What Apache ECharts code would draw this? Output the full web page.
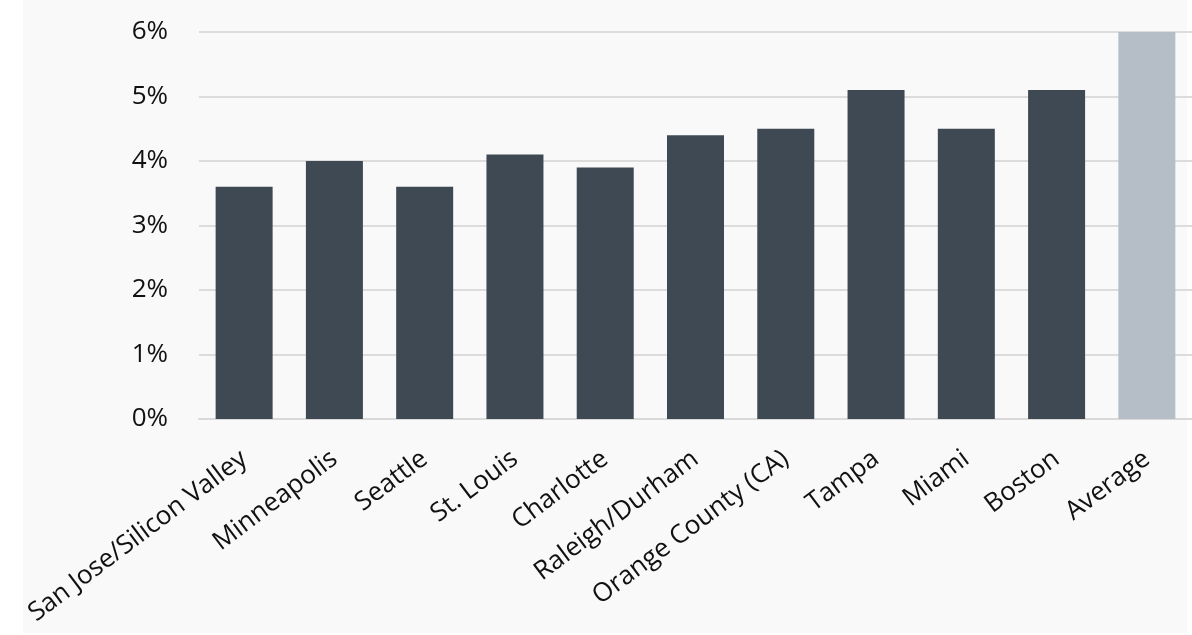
<!DOCTYPE html>
<html>
<head>
<meta charset="utf-8">
<script src="https://cdn.jsdelivr.net/npm/echarts@6/dist/echarts.min.js"></script>
<style>
  html, body { margin: 0; padding: 0; background: #ffffff; }
  #panel { position: absolute; left: 23px; top: 0; width: 1164px; height: 633px; background: #f9f9f9; }
  #chart { position: absolute; left: 0; top: 0; width: 1192px; height: 635px; }
</style>
</head>
<body>
<div id="panel"></div>
<div id="chart"></div>
<script>
// Markets and their rates (%), with the overall average last
const markets = ['San Jose/Silicon Valley', 'Minneapolis', 'Seattle', 'St. Louis', 'Charlotte',
  'Raleigh/Durham', 'Orange County (CA)', 'Tampa', 'Miami', 'Boston', 'Average'];
const rates = [3.6, 4.0, 3.6, 4.1, 3.9, 4.4, 4.5, 5.1, 4.5, 5.1, 6.0];
const yTicks = [0, 1, 2, 3, 4, 5, 6];

const DARK = '#3e4953';
const LIGHT = '#b5bec7';

const chart = echarts.init(document.getElementById('chart'), null, { renderer: 'canvas' });
chart.setOption({
  backgroundColor: 'transparent',
  animation: false,
  grid: { left: 199, top: 32, width: 1001, height: 387, containLabel: false },
  xAxis: {
    type: 'category',
    data: markets,
    axisLine: { show: true, lineStyle: { color: '#d9d9d9', width: 2 } },
    axisTick: { show: false },
    axisLabel: {
      interval: 0,
      rotate: 37,
      margin: 37,
      fontFamily: 'Open Sans',
      fontSize: 26,
      color: '#111111'
    }
  },
  yAxis: {
    type: 'value',
    min: yTicks[0],
    max: yTicks[yTicks.length - 1],
    interval: 1,
    axisLine: { show: false },
    axisTick: { show: false },
    splitLine: { lineStyle: { color: '#dcdcdc', width: 2 } },
    axisLabel: {
      margin: 31,
      fontFamily: 'Open Sans',
      fontSize: 26,
      color: '#111111',
      formatter: v => v + '%'
    }
  },
  series: [{
    type: 'bar',
    barWidth: 57,
    data: rates.map((v, i) => ({
      value: v,
      itemStyle: { color: markets[i] === 'Average' ? LIGHT : DARK }
    }))
  }]
});
</script>
</body>
</html>
